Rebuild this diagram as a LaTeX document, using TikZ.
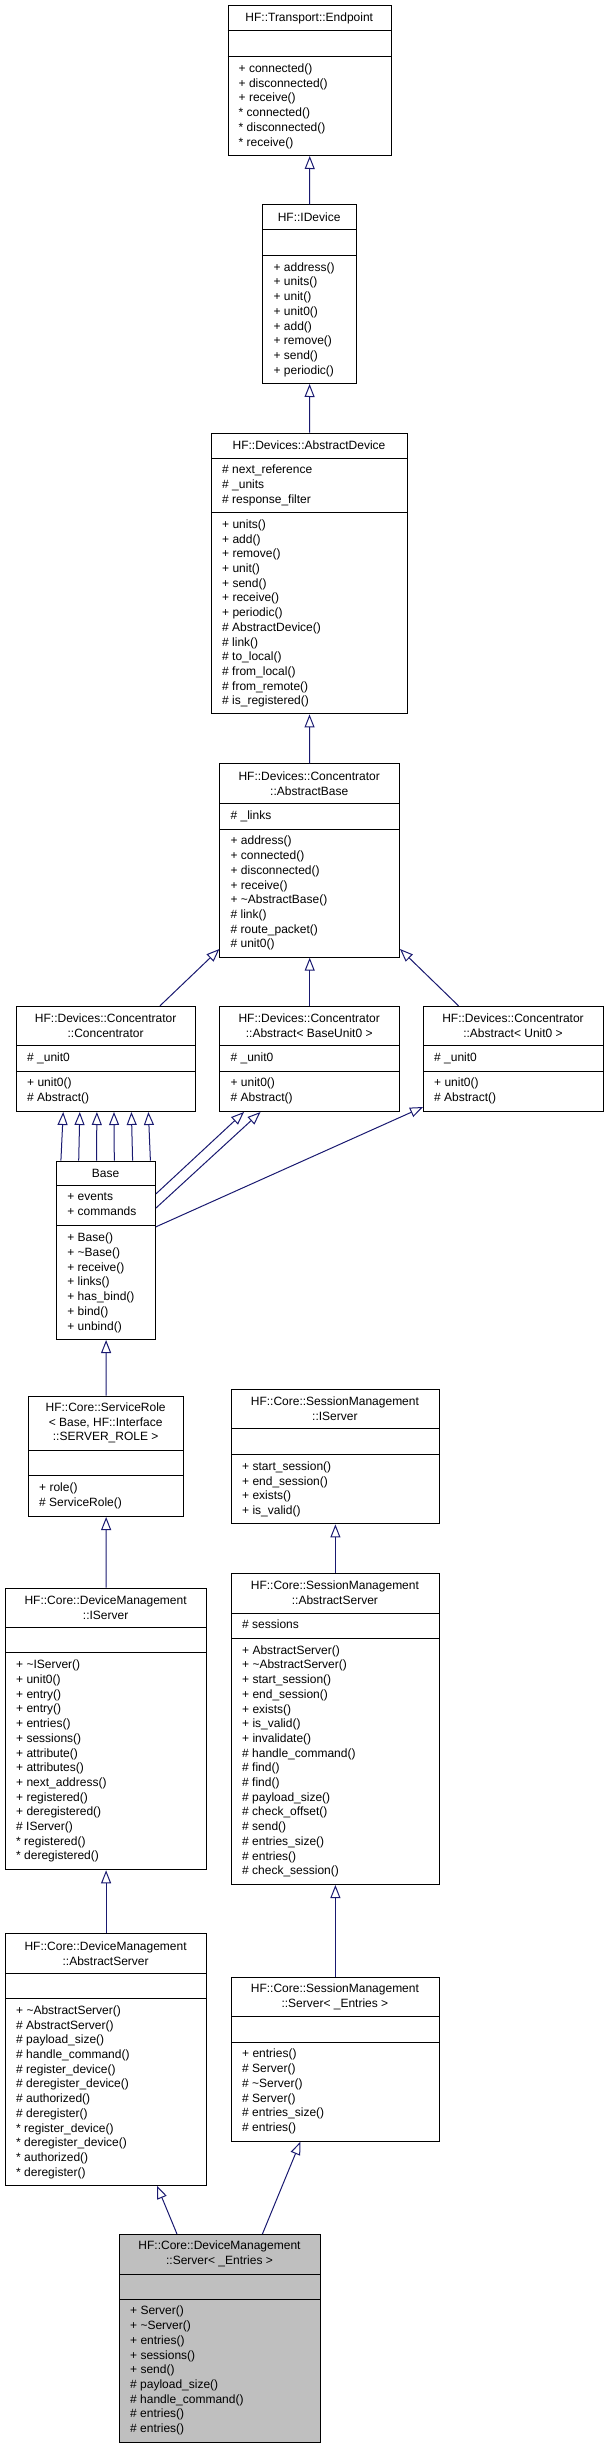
\documentclass[tikz,border=0pt]{standalone}
\usepackage{fontspec}
\setmainfont{Liberation Sans}
\usetikzlibrary{arrows.meta,calc}
\definecolor{edgeblue}{HTML}{191970}
\definecolor{focusgray}{HTML}{BFBFBF}
\tikzset{
  box/.style={draw=black, line width=1pt, inner sep=0pt},
  head/.style={align=center, inner sep=0pt, font=\fontsize{12}{14.7}\selectfont},
  members/.style={align=left, anchor=north west, inner sep=0pt, font=\fontsize{12}{14.7}\selectfont},
  inherit/.style={draw=edgeblue, line width=1pt, -{Triangle[open,length=13pt,width=10pt]}}
}
% frame of one class: name, x0, x1, top, divider 1, divider 2, bottom
\newcommand{\classbox}[8][]{%
  \node[box, #1, anchor=north west, minimum width={(#4-#3)*1pt}, minimum height={(#8-#5)*1pt}] (#2) at (#3,-#5) {};
  \draw[line width=1pt] (#3,-#6) -- (#4,-#6);
  \draw[line width=1pt] (#3,-#7) -- (#4,-#7);
  \coordinate (#2-h) at ($(#3,-#5)!0.5!(#4,-#6)$);
  \coordinate (#2-a) at (#3+11,-#6-7);
  \coordinate (#2-o) at (#3+11,-#7-7);
}
\begin{document}
\begin{tikzpicture}[x=1pt,y=1pt]
 \useasboundingbox (0,0) rectangle (605,-2448);

% top of the hierarchy
 \classbox{ep}{227.5}{391}{5.4}{31}{56.7}{155}
 \node[head] (ep-title) at (ep-h) {HF::Transport::Endpoint};
 \node[members] (ep-ops) at (ep-o) {+ connected()\\+ disconnected()\\+ receive()\\* connected()\\* disconnected()\\* receive()};

 \classbox{idev}{262.4}{355.8}{204.5}{230}{255.4}{383}
 \node[head] (idev-title) at (idev-h) {HF::IDevice};
 \node[members] (idev-ops) at (idev-o) {+ address()\\+ units()\\+ unit()\\+ unit0()\\+ add()\\+ remove()\\+ send()\\+ periodic()};

 \classbox{adev}{211}{407}{432.6}{458}{512.5}{713.4}
 \node[head] (adev-title) at (adev-h) {HF::Devices::AbstractDevice};
 \node[members] (adev-attr) at (adev-a) {\# next\_reference\\\# \_units\\\# response\_filter};
 \node[members] (adev-ops) at (adev-o) {+ units()\\+ add()\\+ remove()\\+ unit()\\+ send()\\+ receive()\\+ periodic()\\\# AbstractDevice()\\\# link()\\\# to\_local()\\\# from\_local()\\\# from\_remote()\\\# is\_registered()};

 \classbox{abase}{219.4}{399}{763.4}{803.6}{829}{956.7}
 \node[head] (abase-title) at (abase-h) {HF::Devices::Concentrator\\::AbstractBase};
 \node[members] (abase-attr) at (abase-a) {\# \_links};
 \node[members] (abase-ops) at (abase-o) {+ address()\\+ connected()\\+ disconnected()\\+ receive()\\+ \textasciitilde AbstractBase()\\\# link()\\\# route\_packet()\\\# unit0()};

% concentrator row
 \classbox{conc}{16}{195.3}{1005.8}{1045.5}{1071}{1111}
 \node[head] (conc-title) at (conc-h) {HF::Devices::Concentrator\\::Concentrator};
 \node[members] (conc-attr) at (conc-a) {\# \_unit0};
 \node[members] (conc-ops) at (conc-o) {+ unit0()\\\# Abstract()};

 \classbox{absbu}{219.4}{399}{1005.8}{1045.5}{1071}{1111}
 \node[head] (absbu-title) at (absbu-h) {HF::Devices::Concentrator\\::Abstract< BaseUnit0 >};
 \node[members] (absbu-attr) at (absbu-a) {\# \_unit0};
 \node[members] (absbu-ops) at (absbu-o) {+ unit0()\\\# Abstract()};

 \classbox{absu}{423}{603}{1005.8}{1045.5}{1071}{1111}
 \node[head] (absu-title) at (absu-h) {HF::Devices::Concentrator\\::Abstract< Unit0 >};
 \node[members] (absu-attr) at (absu-a) {\# \_unit0};
 \node[members] (absu-ops) at (absu-o) {+ unit0()\\\# Abstract()};

 \classbox{base}{56.2}{155}{1160.7}{1185.7}{1225.9}{1339}
 \node[head] (base-title) at (base-h) {Base};
 \node[members] (base-attr) at (base-a) {+ events\\+ commands};
 \node[members] (base-ops) at (base-o) {+ Base()\\+ \textasciitilde Base()\\+ receive()\\+ links()\\+ has\_bind()\\+ bind()\\+ unbind()};

% left column
 \classbox{srole}{28}{183.3}{1395.5}{1450.6}{1475.9}{1516}
 \node[head] (srole-title) at (srole-h) {HF::Core::ServiceRole\\< Base, HF::Interface\\::SERVER\_ROLE >};
 \node[members] (srole-ops) at (srole-o) {+ role()\\\# ServiceRole()};

 \classbox{dmis}{5}{206.2}{1587.7}{1627.6}{1652.9}{1869.3}
 \node[head] (dmis-title) at (dmis-h) {HF::Core::DeviceManagement\\::IServer};
 \node[members] (dmis-ops) at (dmis-o) {+ \textasciitilde IServer()\\+ unit0()\\+ entry()\\+ entry()\\+ entries()\\+ sessions()\\+ attribute()\\+ attributes()\\+ next\_address()\\+ registered()\\+ deregistered()\\\# IServer()\\* registered()\\* deregistered()};

 \classbox{dmas}{5}{206.2}{1933.3}{1973.6}{1998.5}{2184.7}
 \node[head] (dmas-title) at (dmas-h) {HF::Core::DeviceManagement\\::AbstractServer};
 \node[members] (dmas-ops) at (dmas-o) {+ \textasciitilde AbstractServer()\\\# AbstractServer()\\\# payload\_size()\\\# handle\_command()\\\# register\_device()\\\# deregister\_device()\\\# authorized()\\\# deregister()\\* register\_device()\\* deregister\_device()\\* authorized()\\* deregister()};

% right column
 \classbox{smis}{231}{438.8}{1388.8}{1428.4}{1454.4}{1523.4}
 \node[head] (smis-title) at (smis-h) {HF::Core::SessionManagement\\::IServer};
 \node[members] (smis-ops) at (smis-o) {+ start\_session()\\+ end\_session()\\+ exists()\\+ is\_valid()};

 \classbox{smas}{231}{438.8}{1572.8}{1613}{1638.3}{1884}
 \node[head] (smas-title) at (smas-h) {HF::Core::SessionManagement\\::AbstractServer};
 \node[members] (smas-attr) at (smas-a) {\# sessions};
 \node[members] (smas-ops) at (smas-o) {+ AbstractServer()\\+ \textasciitilde AbstractServer()\\+ start\_session()\\+ end\_session()\\+ exists()\\+ is\_valid()\\+ invalidate()\\\# handle\_command()\\\# find()\\\# find()\\\# payload\_size()\\\# check\_offset()\\\# send()\\\# entries\_size()\\\# entries()\\\# check\_session()};

 \classbox{smsrv}{231}{438.8}{1977}{2016.3}{2042}{2140.7}
 \node[head] (smsrv-title) at (smsrv-h) {HF::Core::SessionManagement\\::Server< \_Entries >};
 \node[members] (smsrv-ops) at (smsrv-o) {+ entries()\\\# Server()\\\# \textasciitilde Server()\\\# Server()\\\# entries\_size()\\\# entries()};

% the class itself
 \classbox[fill=focusgray]{dmsrv}{119}{320}{2234}{2274}{2299}{2442}
 \node[head] (dmsrv-title) at (dmsrv-h) {HF::Core::DeviceManagement\\::Server< \_Entries >};
 \node[members] (dmsrv-ops) at (dmsrv-o) {+ Server()\\+ \textasciitilde Server()\\+ entries()\\+ sessions()\\+ send()\\\# payload\_size()\\\# handle\_command()\\\# entries()\\\# entries()};

% inheritance
 \draw[inherit] (idev.north) -- (ep.south);
 \draw[inherit] (adev.north) -- (idev.south);
 \draw[inherit] (abase.north) -- (adev.south);
 \draw[inherit] ($(conc.north west)+(144,0)$) -- ($(abase.south west)+(0,8.7)$);
 \draw[inherit] (absbu.north) -- (abase.south);
 \draw[inherit] ($(absu.north west)+(35.5,0)$) -- ($(abase.south east)+(0,8.7)$);
 \foreach \bx/\cx in {4.7/47.2, 22.5/63.8, 40.3/80.9, 58.1/98, 76.4/115.4, 94.2/132.4}
   \draw[inherit] ($(base.north west)+(\bx,0)$) -- ($(conc.south west)+(\cx,0)$);
 \draw[inherit] ($(base.north east)+(0,-33.1)$) -- ($(absbu.south west)+(24.6,0)$);
 \draw[inherit] ($(base.north east)+(0,-47.3)$) -- ($(absbu.south west)+(41.1,0)$);
 \draw[inherit] ($(base.north east)+(0,-66.1)$) -- ($(absu.south west)+(0,5)$);
 \draw[inherit] (srole.north) -- (base.south);
 \draw[inherit] (dmis.north) -- (srole.south);
 \draw[inherit] (dmas.north) -- (dmis.south);
 \draw[inherit] (smas.north) -- (smis.south);
 \draw[inherit] (smsrv.north) -- (smas.south);
 \draw[inherit] ($(dmsrv.north west)+(58,0)$) -- ($(dmas.south west)+(152,0)$);
 \draw[inherit] ($(dmsrv.north west)+(143.4,0)$) -- ($(smsrv.south west)+(69.4,0)$);
\end{tikzpicture}
\end{document}
